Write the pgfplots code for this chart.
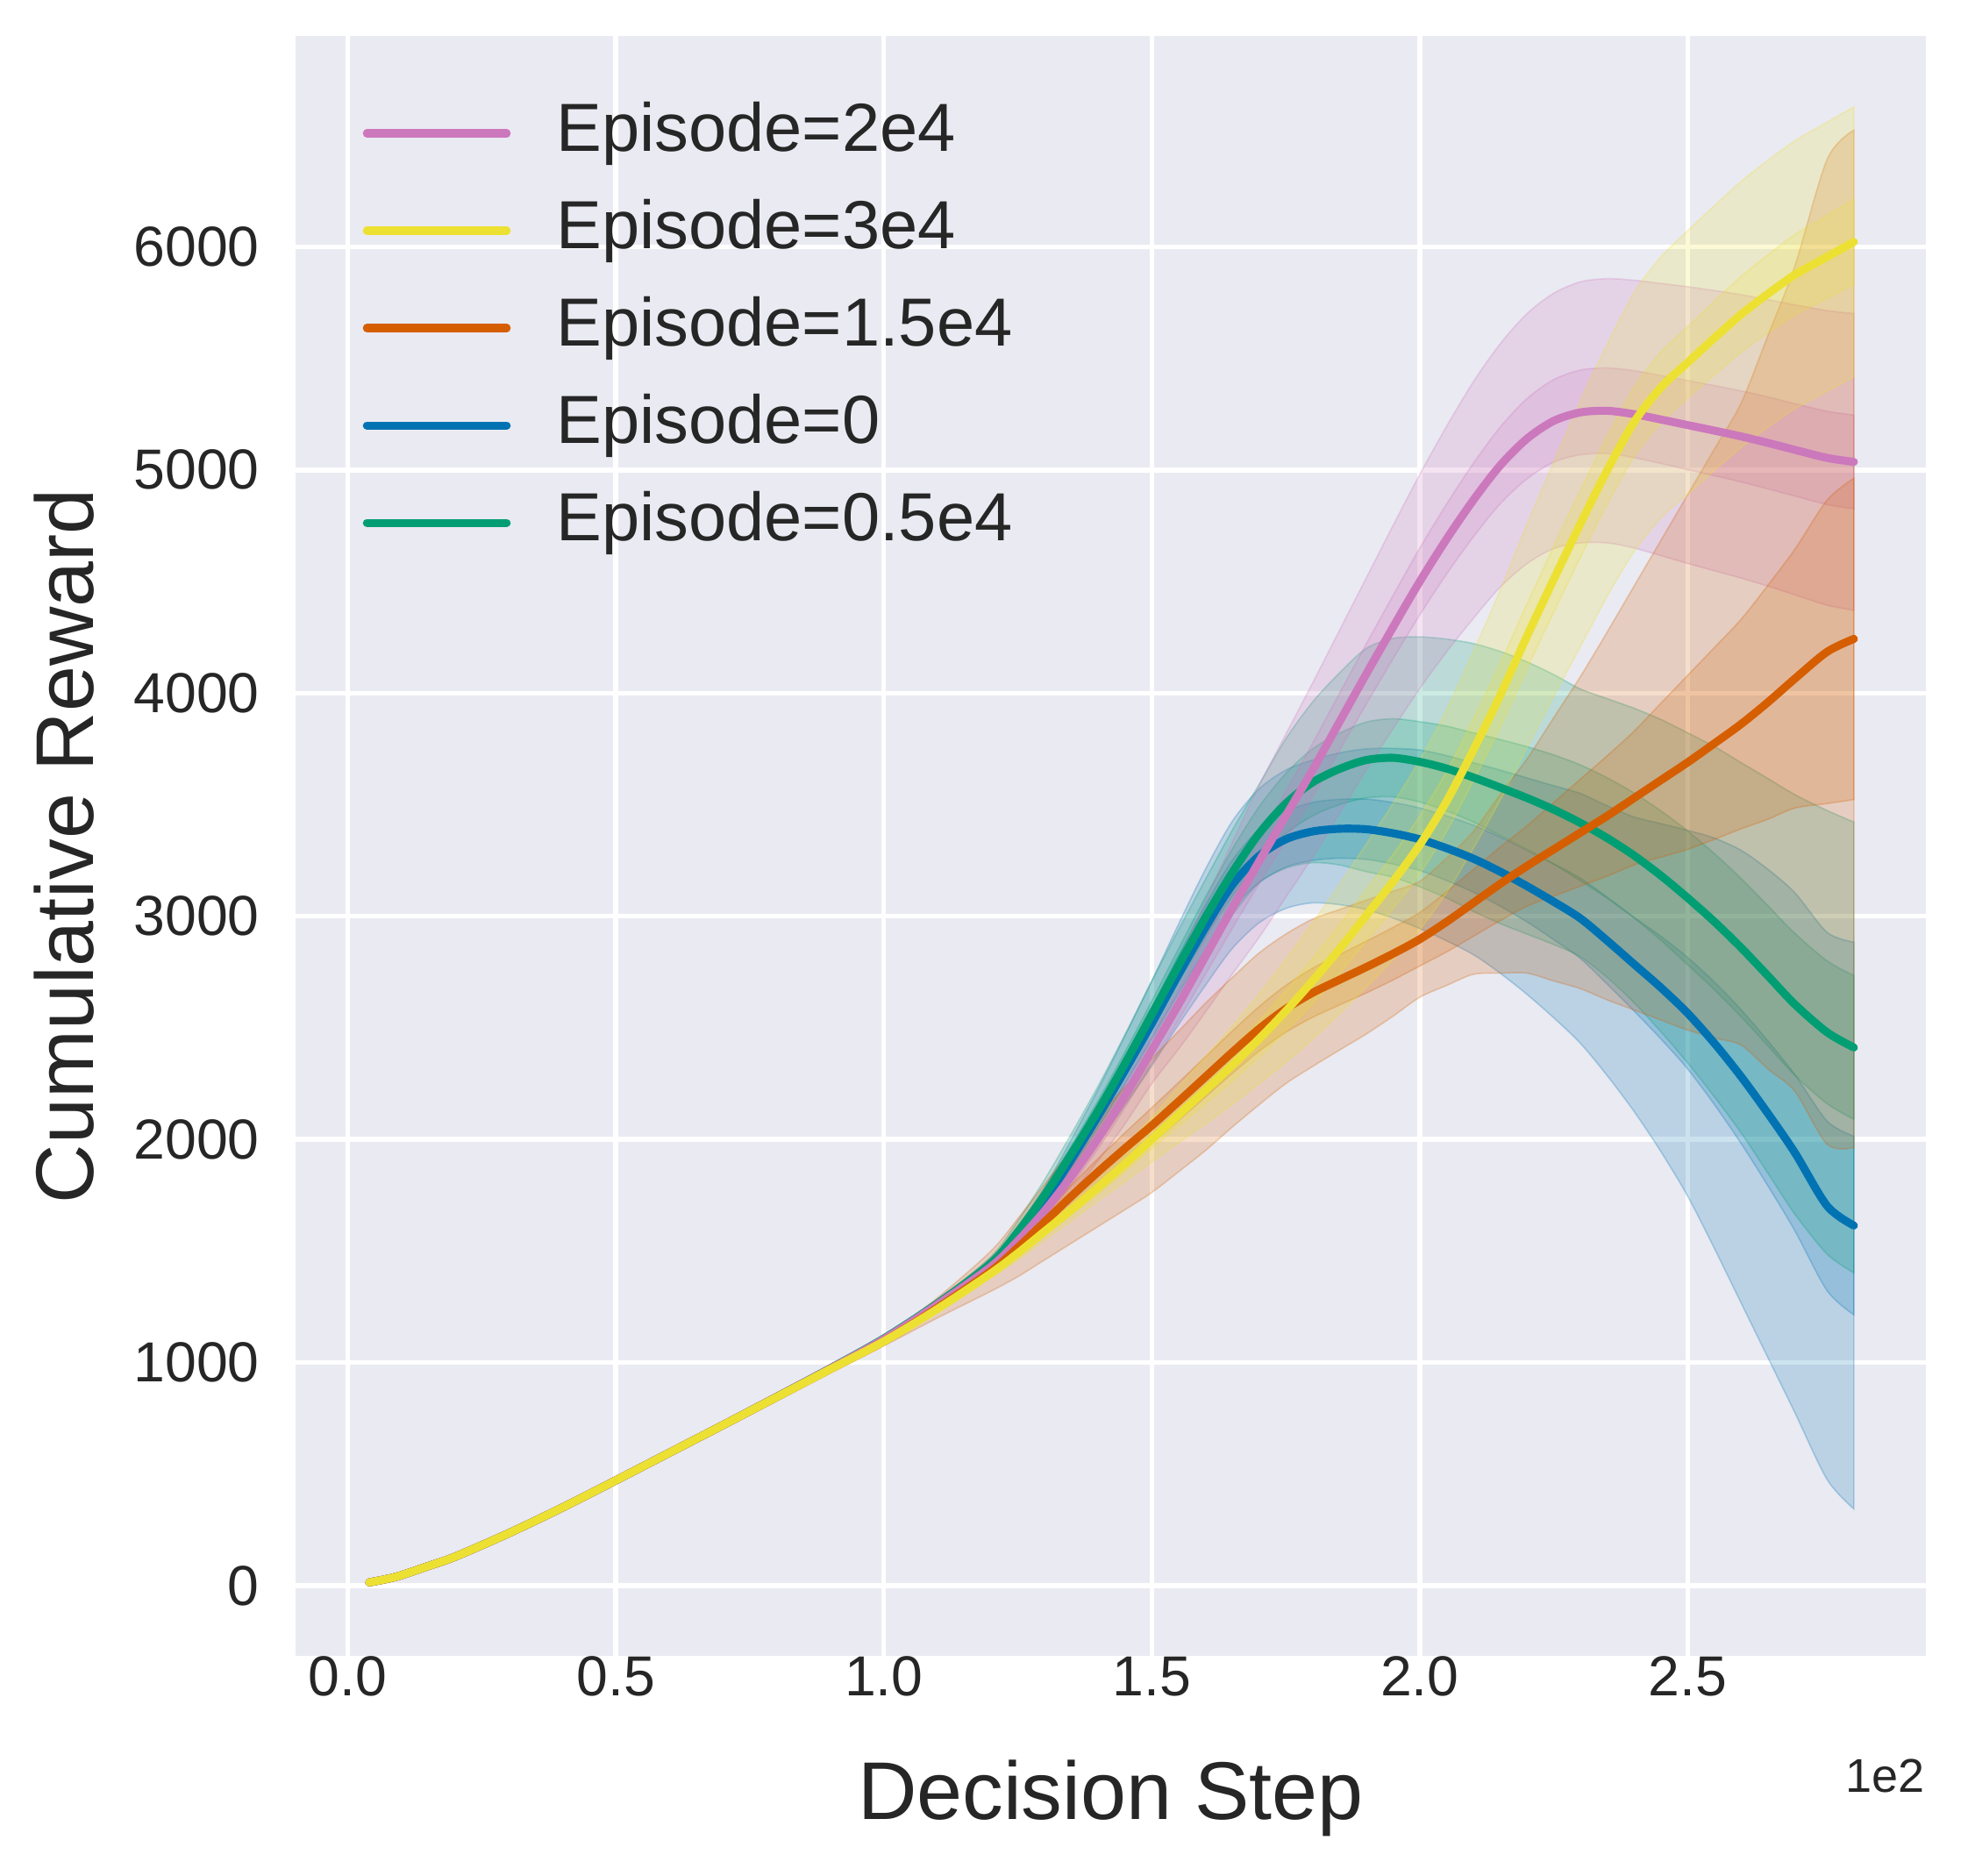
\documentclass[border=0pt]{standalone}
\usepackage{fontspec}
\setmainfont{Liberation Sans}
\usepackage{pgfplots}
\usepackage{pgfplotstable}
\pgfplotsset{compat=1.18}
\usepgfplotslibrary{fillbetween}

\definecolor{bgc}{HTML}{EAEAF2}
\definecolor{textc}{HTML}{262626}
\definecolor{pinkc}{HTML}{CC78BC}
\definecolor{yelc}{HTML}{ECE133}
\definecolor{orc}{HTML}{D55E00}
\definecolor{bluc}{HTML}{0173B2}
\definecolor{grnc}{HTML}{029E73}

% columns: x (1e2 steps), m = mean, a = inner half-width, b = outer half-width
\pgfplotstableread{
x m a b
0.04 15 0 0
0.09 40 0 0
0.15 88 0 0
0.2 130 0 0
0.3 235 0 0
0.4 350 0 0
0.5 472 0 0
0.6 596 0 0
0.7 720 0 0
0.8 846 2 4
0.9 974 3 6
1.0 1108 4 10
1.1 1265 8 15
1.2 1445 15 30
1.25 1585 22 50
1.3 1750 30 70
1.35 1935 38 90
1.4 2130 45 110
1.45 2340 52 130
1.5 2560 60 150
1.55 2780 75 160
1.6 2995 90 170
1.65 3195 105 190
1.7 3370 120 220
1.75 3505 135 290
1.8 3600 150 360
1.85 3660 160 430
1.9 3700 170 500
1.95 3710 175 535
2.0 3692 180 560
2.05 3662 190 580
2.1 3622 200 600
2.15 3577 215 610
2.2 3530 230 610
2.25 3478 245 605
2.3 3418 260 600
2.35 3350 270 625
2.4 3272 280 660
2.45 3182 290 700
2.5 3082 300 740
2.55 2975 305 785
2.6 2858 310 830
2.65 2732 314 885
2.7 2605 318 940
2.76 2480 320 994
2.81 2412 322 1010
}\tabG

\pgfplotstableread{
x m a b
0.04 15 0 0
0.09 40 0 0
0.15 88 0 0
0.2 130 0 0
0.3 235 0 0
0.4 350 0 0
0.5 472 0 0
0.6 596 0 0
0.7 720 0 0
0.8 846 2 4
0.9 973 3 6
1.0 1106 4 10
1.1 1262 8 15
1.2 1440 15 30
1.25 1565 22 45
1.3 1725 30 60
1.35 1910 40 90
1.4 2105 50 120
1.45 2310 60 155
1.5 2520 70 190
1.55 2740 85 225
1.6 2950 100 260
1.65 3140 110 285
1.7 3270 120 300
1.75 3345 125 310
1.8 3380 130 320
1.85 3392 132 340
1.9 3390 135 360
1.95 3372 138 380
2.0 3345 140 400
2.05 3305 145 415
2.1 3258 150 430
2.15 3200 155 455
2.2 3135 160 485
2.25 3065 170 520
2.3 2990 180 560
2.35 2890 195 605
2.4 2785 210 660
2.45 2680 230 735
2.5 2565 250 820
2.55 2430 275 920
2.6 2280 300 1015
2.65 2115 325 1095
2.7 1940 350 1165
2.76 1702 380 1226
2.81 1614 400 1270
}\tabB

\pgfplotstableread{
x m a b
0.04 15 0 0
0.09 40 0 0
0.15 88 0 0
0.2 130 0 0
0.3 235 0 0
0.4 350 0 0
0.5 472 0 0
0.6 596 0 0
0.7 720 0 0
0.8 846 2 4
0.9 973 3 6
1.0 1105 4 10
1.1 1260 8 15
1.2 1430 15 30
1.25 1545 22 45
1.3 1680 30 60
1.35 1835 38 80
1.4 2005 45 100
1.45 2195 52 125
1.5 2400 60 150
1.55 2605 70 200
1.6 2820 80 250
1.65 3035 90 295
1.7 3245 100 340
1.75 3450 110 365
1.8 3655 120 390
1.85 3870 128 410
1.9 4085 135 430
1.95 4295 142 455
2.0 4500 150 480
2.05 4690 157 505
2.1 4865 165 530
2.15 5020 172 545
2.2 5140 180 560
2.25 5220 185 572
2.3 5258 190 585
2.35 5265 192 592
2.4 5250 195 600
2.45 5226 197 610
2.5 5201 200 620
2.55 5176 202 628
2.6 5150 204 635
2.65 5121 206 642
2.7 5090 207 650
2.76 5054 209 660
2.81 5036 210 665
}\tabP

\pgfplotstableread{
x m a b
0.04 15 0 0
0.09 40 0 0
0.15 88 0 0
0.2 130 0 0
0.3 235 0 0
0.4 350 0 0
0.5 472 0 0
0.6 596 0 0
0.7 720 0 0
0.8 845 2 6
0.9 970 3 12
1.0 1095 4 20
1.1 1245 8 45
1.2 1410 15 90
1.25 1515 25 130
1.3 1630 40 170
1.35 1745 50 210
1.4 1855 60 245
1.45 1960 70 275
1.5 2062 80 300
1.55 2170 85 315
1.6 2280 90 330
1.65 2390 95 335
1.7 2495 100 340
1.75 2585 105 335
1.8 2657 110 330
1.85 2715 113 315
1.9 2772 116 300
1.95 2832 118 280
2.0 2897 120 260
2.05 2975 135 285
2.1 3060 150 320
2.15 3145 165 400
2.2 3225 180 480
2.25 3300 210 590
2.3 3375 240 700
2.35 3450 270 825
2.4 3530 300 950
2.45 3610 345 1075
2.5 3690 390 1200
2.55 3775 430 1320
2.6 3862 470 1440
2.65 3960 525 1645
2.7 4065 580 1850
2.76 4185 680 2207
2.81 4243 720 2280
}\tabO

\pgfplotstableread{
x m a b
0.04 15 0 0
0.09 40 0 0
0.15 88 0 0
0.2 130 0 0
0.3 235 0 0
0.4 350 0 0
0.5 472 0 0
0.6 596 0 0
0.7 720 0 0
0.8 845 1 3
0.9 970 2 5
1.0 1095 3 8
1.1 1240 6 12
1.2 1400 10 20
1.25 1490 15 30
1.3 1588 20 40
1.35 1685 25 50
1.4 1785 30 60
1.45 1890 35 80
1.5 2000 40 100
1.55 2110 50 125
1.6 2220 60 150
1.65 2332 70 175
1.7 2450 80 200
1.75 2575 90 230
1.8 2710 100 260
1.85 2852 108 290
1.9 3003 115 320
1.95 3155 122 350
2.0 3320 130 380
2.05 3515 134 410
2.1 3745 138 440
2.15 3990 142 470
2.2 4255 145 500
2.25 4510 148 525
2.3 4760 150 550
2.35 5000 152 565
2.4 5215 155 580
2.45 5370 158 585
2.5 5482 160 590
2.55 5592 165 593
2.6 5698 170 596
2.65 5790 175 598
2.7 5875 180 600
2.76 5955 185 603
2.81 6022 190 605
}\tabY

\newcommand{\series}[2]{%
  \addplot[smooth, draw=none, forget plot, name path=#2ou] table[x=x, y expr=\thisrow{m}+\thisrow{b}] {#1};
  \addplot[smooth, draw=none, forget plot, name path=#2ol] table[x=x, y expr=\thisrow{m}-\thisrow{b}] {#1};
  \addplot[fill=#2, fill opacity=0.2, draw=#2, draw opacity=0.25, line width=0.4pt, forget plot] fill between[of=#2ou and #2ol];
  \addplot[smooth, draw=none, forget plot, name path=#2iu] table[x=x, y expr=\thisrow{m}+\thisrow{a}] {#1};
  \addplot[smooth, draw=none, forget plot, name path=#2il] table[x=x, y expr=\thisrow{m}-\thisrow{a}] {#1};
  \addplot[fill=#2, fill opacity=0.2, draw=#2, draw opacity=0.25, line width=0.4pt, forget plot] fill between[of=#2iu and #2il];
  \addplot[smooth, #2, line width=2.2pt, line cap=round, line join=round, forget plot] table[x=x, y=m] {#1};
}

\begin{document}
\begin{tikzpicture}
\begin{axis}[
  scale only axis, width=15.74cm, height=15.64cm,
  xmin=-0.098, xmax=2.944, ymin=-315, ymax=6945,
  axis background/.style={fill=bgc},
  axis line style={draw=none},
  major tick length=0pt,
  xmajorgrids, ymajorgrids,
  major grid style={white, line width=1.3pt},
  xtick={0,0.5,1,1.5,2,2.5}, xticklabels={0.0,0.5,1.0,1.5,2.0,2.5},
  ytick={0,1000,2000,3000,4000,5000,6000},
  yticklabels={0,1000,2000,3000,4000,5000,6000},
  tick label style={font=\fontsize{15.5}{18}\selectfont, text=textc, inner sep=0pt},
  xticklabel style={anchor=north, yshift=0cm},
  yticklabel style={anchor=east, xshift=-0.34cm},
  xlabel={Decision Step}, ylabel={Cumulative Reward},
  xlabel style={at={(axis description cs:0.5,-0.1006)}, anchor=base, inner sep=0pt, font=\fontsize{22.5}{26}\selectfont, text=textc},
  ylabel style={at={(axis description cs:-0.1239,0.5)}, anchor=base, inner sep=0pt, font=\fontsize{22.5}{26}\selectfont, text=textc},
  legend style={
    at={(axis description cs:0,1)}, anchor=north west,
    xshift=0.652cm, yshift=-0.565cm,
    draw=none, fill=none, inner sep=0pt, outer sep=0pt,
    font=\fontsize{18.7}{22}\selectfont, text=textc,
    row sep=7.7pt,
  },
  legend cell align=left,
  legend image code/.code={\draw[#1, line cap=round] (0cm,-0.04cm) -- (1.35cm,-0.04cm); \path[draw=none] (0cm,-0.04cm) -- (1.76cm,-0.04cm);},
]
\addlegendimage{pinkc, line width=2.2pt}
\addlegendentry{Episode=2e4}
\addlegendimage{yelc, line width=2.2pt}
\addlegendentry{Episode=3e4}
\addlegendimage{orc, line width=2.2pt}
\addlegendentry{Episode=1.5e4}
\addlegendimage{bluc, line width=2.2pt}
\addlegendentry{Episode=0}
\addlegendimage{grnc, line width=2.2pt}
\addlegendentry{Episode=0.5e4}

\series{\tabB}{bluc}
\series{\tabG}{grnc}
\series{\tabP}{pinkc}
\series{\tabO}{orc}
\series{\tabY}{yelc}
\end{axis}
\node[anchor=base east, inner sep=0pt, font=\fontsize{13}{15}\selectfont, text=textc] at (15.74cm,-1.312cm) {1e2};
\pgfresetboundingbox
\path (-2.851cm,-2.123cm) rectangle (16.081cm,15.987cm);
\end{tikzpicture}
\end{document}
